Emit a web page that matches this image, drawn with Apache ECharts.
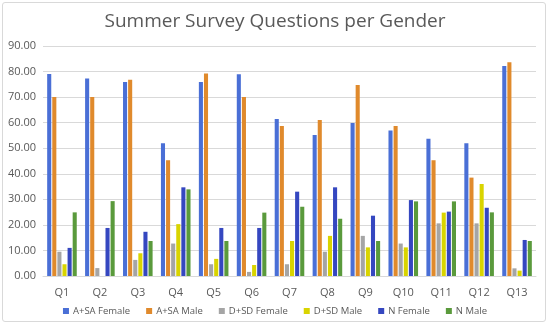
<!DOCTYPE html>
<html>
<head>
<meta charset="utf-8">
<script src="https://cdn.jsdelivr.net/npm/echarts@6/dist/echarts.min.js"></script>
<style>
html,body{margin:0;padding:0;background:#fff;}
#wrap{position:absolute;left:2px;top:2px;width:544px;height:320px;border:1px solid #D9D9D9;border-radius:3px;box-sizing:border-box;}
#chart{position:absolute;left:0;top:0;width:550px;height:327px;}
</style>
</head>
<body>
<div id="wrap"></div>
<div id="chart"></div>
<script>
var categories = ["Q1","Q2","Q3","Q4","Q5","Q6","Q7","Q8","Q9","Q10","Q11","Q12","Q13"];
var seriesNames = ["A+SA Female","A+SA Male","D+SD Female","D+SD Male","N Female","N Male"];
var aSaFemale = [79.0,77.3,75.9,51.9,75.9,78.9,61.4,55.2,59.9,56.9,53.7,51.9,82.2];
var aSaMale   = [70.0,70.0,76.8,45.3,79.2,70.0,58.7,61.0,74.7,58.7,45.3,38.5,83.6];
var dSdFemale = [9.5,3.1,6.3,12.7,4.6,1.6,4.6,9.5,15.7,12.7,20.6,20.6,3.0];
var dSdMale   = [4.6,0,8.9,20.3,6.7,4.3,13.7,15.7,11.2,11.2,24.8,36.0,2.1];
var nFemale   = [11.0,18.8,17.3,34.7,18.8,18.8,33.0,34.7,23.6,29.7,25.2,26.7,14.1];
var nMale     = [24.9,29.3,13.7,33.9,13.7,24.8,27.1,22.4,13.7,29.2,29.2,24.9,13.7];
var yTicks = [0,10,20,30,40,50,60,70,80,90];

var colors = ["#4A6FD6","#E08A2C","#A5A5A5","#D9D400","#3547C0","#5A9A3C"];
var values = [aSaFemale,aSaMale,dSdFemale,dSdMale,nFemale,nMale];

var chart = echarts.init(document.getElementById('chart'));
chart.setOption({
  animation:false,
  title:{text:"Summer Survey Questions per Gender",left:'center',top:7,
    textStyle:{fontFamily:'Open Sans',fontSize:19,fontWeight:'normal',color:'#595959'}},
  color:colors,
  grid:{left:43,right:14,top:46,bottom:51},
  legend:{bottom:6,left:'center',itemWidth:6,itemHeight:6,itemGap:16,icon:'rect',
    textStyle:{fontFamily:'Open Sans',fontSize:9.5,color:'#595959',padding:[0,0,0,-1]},data:seriesNames},
  xAxis:{type:'category',data:categories,
    axisLine:{lineStyle:{color:'#D9D9D9'}},axisTick:{show:false},
    axisLabel:{color:'#595959',fontFamily:'Open Sans',fontSize:11,margin:11}},
  yAxis:{type:'value',min:yTicks[0],max:yTicks[yTicks.length-1],interval:10,
    axisLine:{show:false},axisTick:{show:false},
    splitLine:{lineStyle:{color:'#D9D9D9'}},
    axisLabel:{color:'#595959',fontFamily:'Open Sans',fontSize:11,margin:7,
      formatter:function(v){return v.toFixed(2);}}},
  series:seriesNames.map(function(n,i){
    return {name:n,type:'bar',data:values[i],barGap:'25%',barCategoryGap:'22%'};
  })
});
</script>
</body>
</html>
